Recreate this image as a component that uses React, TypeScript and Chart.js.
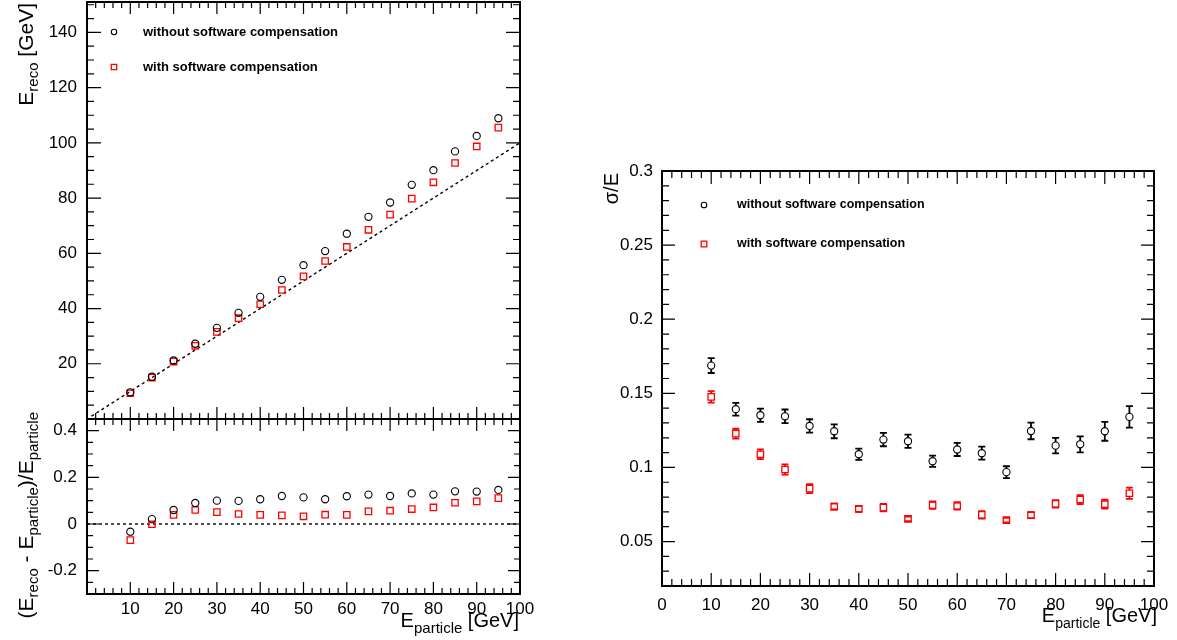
import React, { useEffect, useRef } from 'react';
import { Chart, registerables } from 'chart.js';

Chart.register(...registerables);

// ---------------- data ----------------
const energies = [10, 15, 20, 25, 30, 35, 40, 45, 50, 55, 60, 65, 70, 75, 80, 85, 90, 95];

const recoWithout = [9.67, 15.3, 21.2, 27.25, 33.0, 38.45, 44.24, 50.4, 55.7, 60.8, 67.1, 73.2, 78.4, 84.8, 90.1, 96.9, 102.5, 108.9];
const recoWith = [9.31, 15.0, 20.8, 26.5, 31.55, 36.5, 41.56, 46.7, 51.65, 57.2, 62.3, 68.5, 74.0, 79.8, 85.7, 92.7, 98.7, 105.5];

const relWithout = [-0.033, 0.021, 0.06, 0.09, 0.1, 0.099, 0.106, 0.12, 0.114, 0.106, 0.119, 0.126, 0.12, 0.131, 0.126, 0.14, 0.139, 0.146];
const relWith = [-0.069, -0.001, 0.039, 0.06, 0.051, 0.043, 0.039, 0.037, 0.033, 0.04, 0.039, 0.054, 0.057, 0.064, 0.071, 0.091, 0.097, 0.111];

const resoWithout = [0.1687, 0.1393, 0.1352, 0.1345, 0.128, 0.1244, 0.1089, 0.1188, 0.1177, 0.1042, 0.1121, 0.1096, 0.0968, 0.1246, 0.1147, 0.1156, 0.1244, 0.1341];
const resoWithoutErr = [0.005, 0.0043, 0.0045, 0.0046, 0.0045, 0.0047, 0.0038, 0.0045, 0.0045, 0.0038, 0.0044, 0.0044, 0.004, 0.0056, 0.0052, 0.0054, 0.0064, 0.0072];
const resoWith = [0.1476, 0.1228, 0.1089, 0.0986, 0.0857, 0.0736, 0.072, 0.0729, 0.0653, 0.0745, 0.074, 0.068, 0.0644, 0.0678, 0.0754, 0.0783, 0.0752, 0.0826];
const resoWithErr = [0.0039, 0.0033, 0.0033, 0.0034, 0.003, 0.002, 0.002, 0.0025, 0.0015, 0.0025, 0.0025, 0.0025, 0.0015, 0.002, 0.0025, 0.003, 0.003, 0.0038];

const diagonalX = [1, 100];
const zeroLineX = [0, 100];

const xTickLabelsLeft = [10, 20, 30, 40, 50, 60, 70, 80, 90, 100];
const xTickLabelsRight = [0, 10, 20, 30, 40, 50, 60, 70, 80, 90, 100];
const recoTickLabels = [20, 40, 60, 80, 100, 120, 140];
const relTickLabels = [-0.2, 0, 0.2, 0.4];
const resoTickLabels = [0.05, 0.1, 0.15, 0.2, 0.25, 0.3];

const legendLabels = ['without software compensation', 'with software compensation'];

// ---------------- styling helpers ----------------
const FONT = '"Liberation Sans", Arial, Helvetica, sans-serif';
const RED = '#ff0000';

type Part = { t: string; sub?: boolean };
type Title = { parts: Part[]; dx: number; dy: number; anchor: 'right' | 'top'; rotate: boolean; size: number; subSize: number; subDrop: number };

function richWidth(ctx: CanvasRenderingContext2D, t: Title) {
  let w = 0;
  for (const p of t.parts) {
    ctx.font = `${p.sub ? t.subSize : t.size}px ${FONT}`;
    w += ctx.measureText(p.t).width;
  }
  return w;
}

function drawTitle(ctx: CanvasRenderingContext2D, t: Title, x: number, y: number) {
  ctx.save();
  ctx.fillStyle = '#000';
  ctx.textBaseline = 'alphabetic';
  ctx.textAlign = 'left';
  const w = richWidth(ctx, t);
  ctx.translate(x, y);
  if (t.rotate) ctx.rotate(-Math.PI / 2);
  let cx = -w;
  for (const p of t.parts) {
    ctx.font = `${p.sub ? t.subSize : t.size}px ${FONT}`;
    ctx.fillText(p.t, cx, p.sub ? t.subDrop : 0);
    cx += ctx.measureText(p.t).width;
  }
  ctx.restore();
}

type AxisTicks = { major: number; minor: number; majorLen: number; minorLen: number };
type Cfg = {
  xTicks: AxisTicks;
  yTicks: AxisTicks;
  titles: Title[];
  legend?: { mx: number; tx: number; y0: number; dy: number; size: number; r: number };
  errWidth: number;
  cap: number;
};

function drawAxisTicks(ctx: CanvasRenderingContext2D, scale: any, t: AxisTicks, horizontal: boolean, area: any) {
  const ratio = Math.round(t.major / t.minor);
  const k0 = Math.ceil(scale.min / t.minor - 1e-9);
  const k1 = Math.floor(scale.max / t.minor + 1e-9);
  ctx.beginPath();
  for (let k = k0; k <= k1; k++) {
    const v = k * t.minor;
    const len = k % ratio === 0 ? t.majorLen : t.minorLen;
    const p = scale.getPixelForValue(v);
    if (horizontal) {
      ctx.moveTo(p, area.bottom);
      ctx.lineTo(p, area.bottom - len);
      ctx.moveTo(p, area.top);
      ctx.lineTo(p, area.top + len);
    } else {
      ctx.moveTo(area.left, p);
      ctx.lineTo(area.left + len, p);
      ctx.moveTo(area.right, p);
      ctx.lineTo(area.right - len, p);
    }
  }
  ctx.stroke();
}

function makeRootPlugin(cfg: Cfg) {
  return {
    id: 'rootStyle',
    afterDatasetsDraw(chart: any) {
      const ctx: CanvasRenderingContext2D = chart.ctx;
      const area = chart.chartArea;
      const xs = chart.scales.x;
      const ys = chart.scales.y;

      // error bars
      chart.data.datasets.forEach((ds: any) => {
        if (!ds.errors) return;
        ctx.save();
        ctx.strokeStyle = ds.borderColor;
        ctx.lineWidth = cfg.errWidth;
        ctx.beginPath();
        ds.data.forEach((p: any, i: number) => {
          const e = ds.errors[i];
          const px = xs.getPixelForValue(p.x);
          const py = ys.getPixelForValue(p.y);
          const yTop = ys.getPixelForValue(p.y + e);
          const yBot = ys.getPixelForValue(p.y - e);
          const gap = ds.errGap;
          if (py - yTop > gap) {
            ctx.moveTo(px, py - gap);
            ctx.lineTo(px, yTop);
          }
          if (yBot - py > gap) {
            ctx.moveTo(px, py + gap);
            ctx.lineTo(px, yBot);
          }
          ctx.moveTo(px - cfg.cap, yTop);
          ctx.lineTo(px + cfg.cap, yTop);
          ctx.moveTo(px - cfg.cap, yBot);
          ctx.lineTo(px + cfg.cap, yBot);
        });
        ctx.stroke();
        ctx.restore();
      });

      // ticks
      ctx.save();
      ctx.strokeStyle = '#000';
      ctx.lineWidth = 1.2;
      drawAxisTicks(ctx, xs, cfg.xTicks, true, area);
      drawAxisTicks(ctx, ys, cfg.yTicks, false, area);
      // frame
      ctx.lineWidth = 2;
      ctx.strokeRect(area.left, area.top, area.right - area.left, area.bottom - area.top);
      ctx.restore();

      // legend (canvas coordinates)
      if (cfg.legend) {
        const L = cfg.legend;
        const dss = chart.data.datasets.filter((d: any) => d.inLegend);
        dss.forEach((ds: any, i: number) => {
          const y = L.y0 + i * L.dy;
          ctx.save();
          ctx.strokeStyle = ds.borderColor;
          ctx.lineWidth = ds.borderWidth;
          ctx.beginPath();
          if (ds.pointStyle === 'rect') {
            ctx.rect(L.mx - L.r, y - L.r, 2 * L.r, 2 * L.r);
          } else {
            ctx.arc(L.mx, y, L.r, 0, Math.PI * 2);
          }
          ctx.stroke();
          ctx.fillStyle = '#000';
          ctx.font = `bold ${L.size}px ${FONT}`;
          ctx.textBaseline = 'middle';
          ctx.textAlign = 'left';
          ctx.fillText(ds.label, L.tx, y);
          ctx.restore();
        });
      }

      // axis titles
      for (const t of cfg.titles) {
        let x = 0;
        let y = 0;
        if (t.anchor === 'right') {
          x = area.right + t.dx;
          y = area.bottom + t.dy;
        } else {
          x = area.left + t.dx;
          y = area.top + t.dy;
        }
        drawTitle(ctx, t, x, y);
      }
    },
  };
}

function linScale(min: number, max: number, ticks: number[], o: { width?: number; height?: number; labels: boolean; padding: number; size: number; show?: boolean }) {
  return {
    type: 'linear',
    display: o.show !== false,
    min,
    max,
    afterBuildTicks: (s: any) => {
      s.ticks = ticks.map((v) => ({ value: v }));
    },
    afterFit: (s: any) => {
      if (o.width != null) s.width = o.width;
      if (o.height != null) s.height = o.height;
      s.paddingTop = 0;
      s.paddingBottom = 0;
      s.paddingLeft = 0;
      s.paddingRight = 0;
    },
    grid: { display: false, drawTicks: false },
    border: { display: false },
    ticks: {
      display: o.labels,
      autoSkip: false,
      maxRotation: 0,
      minRotation: 0,
      padding: o.padding,
      color: '#000',
      font: { family: FONT, size: o.size },
      callback: (v: any) => String(v),
    },
  };
}

function pts(xv: number[], yv: number[]) {
  return xv.map((x, i) => ({ x, y: yv[i] }));
}

function circleSet(label: string, data: any[], extra: any = {}) {
  return {
    label,
    data,
    pointStyle: 'circle',
    pointRadius: 3.6,
    pointHoverRadius: 3.6,
    borderColor: '#000',
    backgroundColor: 'rgba(0,0,0,0)',
    borderWidth: 1.1,
    inLegend: true,
    errGap: 3.6,
    ...extra,
  };
}
function squareSet(label: string, data: any[], extra: any = {}) {
  return {
    label,
    data,
    pointStyle: 'rect',
    pointRadius: 4.5,
    pointHoverRadius: 4.5,
    borderColor: RED,
    backgroundColor: 'rgba(0,0,0,0)',
    borderWidth: 1.3,
    inLegend: true,
    errGap: 3.2,
    ...extra,
  };
}
function dashed(data: any[]) {
  return {
    type: 'line',
    data,
    borderColor: '#000',
    borderDash: [3, 3],
    borderWidth: 1.4,
    pointRadius: 0,
    fill: false,
    inLegend: false,
  };
}

const baseOptions = {
  animation: false,
  responsive: false,
  devicePixelRatio: 1,
  events: [],
  plugins: { legend: { display: false }, tooltip: { enabled: false } },
};

export default function App() {
  const refA = useRef<HTMLCanvasElement>(null);
  const refB = useRef<HTMLCanvasElement>(null);
  const refC = useRef<HTMLCanvasElement>(null);

  useEffect(() => {
    const charts: Chart[] = [];

    // ---- top-left: E_reco vs E_particle (canvas placed at page y = -20) ----
    charts.push(
      new Chart(refA.current!, {
        type: 'scatter',
        data: {
          datasets: [
            circleSet(legendLabels[0], pts(energies, recoWithout)),
            squareSet(legendLabels[1], pts(energies, recoWith)),
            dashed(pts(diagonalX, diagonalX)),
          ] as any,
        },
        options: {
          ...baseOptions,
          layout: { padding: { left: 0, right: 40, top: 22, bottom: 21 } },
          scales: {
            x: linScale(0, 100, xTickLabelsLeft, { height: 0, labels: false, padding: 0, size: 17, show: false }),
            y: linScale(0, 151, recoTickLabels, { width: 87, labels: true, padding: 10, size: 17 }),
          },
        } as any,
        plugins: [
          makeRootPlugin({
            xTicks: { major: 10, minor: 2, majorLen: 12, minorLen: 6 },
            yTicks: { major: 20, minor: 5, majorLen: 14, minorLen: 7 },
            legend: { mx: 114, tx: 143, y0: 52, dy: 35, size: 13, r: 2.7 },
            errWidth: 1.5,
            cap: 3.5,
            titles: [
              {
                parts: [{ t: 'E' }, { t: 'reco', sub: true }, { t: ' [GeV]' }],
                anchor: 'top',
                dx: -54,
                dy: 1,
                rotate: true,
                size: 21,
                subSize: 15,
                subDrop: 5,
              },
            ],
          }),
        ],
      } as any)
    );

    // ---- bottom-left: relative deviation ----
    charts.push(
      new Chart(refB.current!, {
        type: 'scatter',
        data: {
          datasets: [
            circleSet(legendLabels[0], pts(energies, relWithout)),
            squareSet(legendLabels[1], pts(energies, relWith)),
            dashed(pts(zeroLineX, [0, 0])),
          ] as any,
        },
        options: {
          ...baseOptions,
          layout: { padding: { left: 0, right: 40, top: 19, bottom: 0 } },
          scales: {
            x: linScale(0, 100, xTickLabelsLeft, { height: 46, labels: true, padding: 5, size: 17 }),
            y: linScale(-0.3, 0.45, relTickLabels, { width: 87, labels: true, padding: 10, size: 17 }),
          },
        } as any,
        plugins: [
          makeRootPlugin({
            xTicks: { major: 10, minor: 2, majorLen: 12, minorLen: 6 },
            yTicks: { major: 0.2, minor: 0.05, majorLen: 12, minorLen: 6 },
            errWidth: 1.5,
            cap: 3.5,
            titles: [
              {
                parts: [
                  { t: '(E' },
                  { t: 'reco', sub: true },
                  { t: ' - E' },
                  { t: 'particle', sub: true },
                  { t: ')/E' },
                  { t: 'particle', sub: true },
                ],
                anchor: 'top',
                dx: -54,
                dy: -7,
                rotate: true,
                size: 21,
                subSize: 15,
                subDrop: 5,
              },
              {
                parts: [{ t: 'E' }, { t: 'particle', sub: true }, { t: ' [GeV]' }],
                anchor: 'right',
                dx: -1,
                dy: 33,
                rotate: false,
                size: 20,
                subSize: 15,
                subDrop: 6,
              },
            ],
          }),
        ],
      } as any)
    );

    // ---- right: resolution ----
    charts.push(
      new Chart(refC.current!, {
        type: 'scatter',
        data: {
          datasets: [
            circleSet(legendLabels[0], pts(energies, resoWithout), { errors: resoWithoutErr }),
            squareSet(legendLabels[1], pts(energies, resoWith), { errors: resoWithErr }),
          ] as any,
        },
        options: {
          ...baseOptions,
          layout: { padding: { left: 0, right: 23, top: 21, bottom: 0 } },
          scales: {
            x: linScale(0, 100, xTickLabelsRight, { height: 54, labels: true, padding: 9, size: 17 }),
            y: linScale(0.02, 0.3, resoTickLabels, { width: 72, labels: true, padding: 9, size: 17 }),
          },
        } as any,
        plugins: [
          makeRootPlugin({
            xTicks: { major: 10, minor: 2, majorLen: 13, minorLen: 7 },
            yTicks: { major: 0.05, minor: 0.01, majorLen: 13, minorLen: 7 },
            legend: { mx: 114, tx: 147, y0: 55, dy: 39, size: 12.5, r: 2.8 },
            errWidth: 1.8,
            cap: 3.5,
            titles: [
              {
                parts: [{ t: 'σ/E' }],
                anchor: 'top',
                dx: -44,
                dy: 2,
                rotate: true,
                size: 20,
                subSize: 14,
                subDrop: 5,
              },
              {
                parts: [{ t: 'E' }, { t: 'particle', sub: true }, { t: ' [GeV]' }],
                anchor: 'right',
                dx: 3,
                dy: 36,
                rotate: false,
                size: 20,
                subSize: 14,
                subDrop: 6,
              },
            ],
          }),
        ],
      } as any)
    );

    return () => charts.forEach((c) => c.destroy());
  }, []);

  return (
    <div style={{ position: 'fixed', left: 0, top: 0, width: 1177, height: 640, background: '#fff', overflow: 'hidden' }}>
      <canvas ref={refA} width={560} height={460} style={{ position: 'absolute', left: 0, top: -20, width: 560, height: 460 }} />
      <canvas ref={refB} width={560} height={240} style={{ position: 'absolute', left: 0, top: 400, width: 560, height: 240 }} />
      <canvas ref={refC} width={587} height={490} style={{ position: 'absolute', left: 590, top: 150, width: 587, height: 490 }} />
    </div>
  );
}
